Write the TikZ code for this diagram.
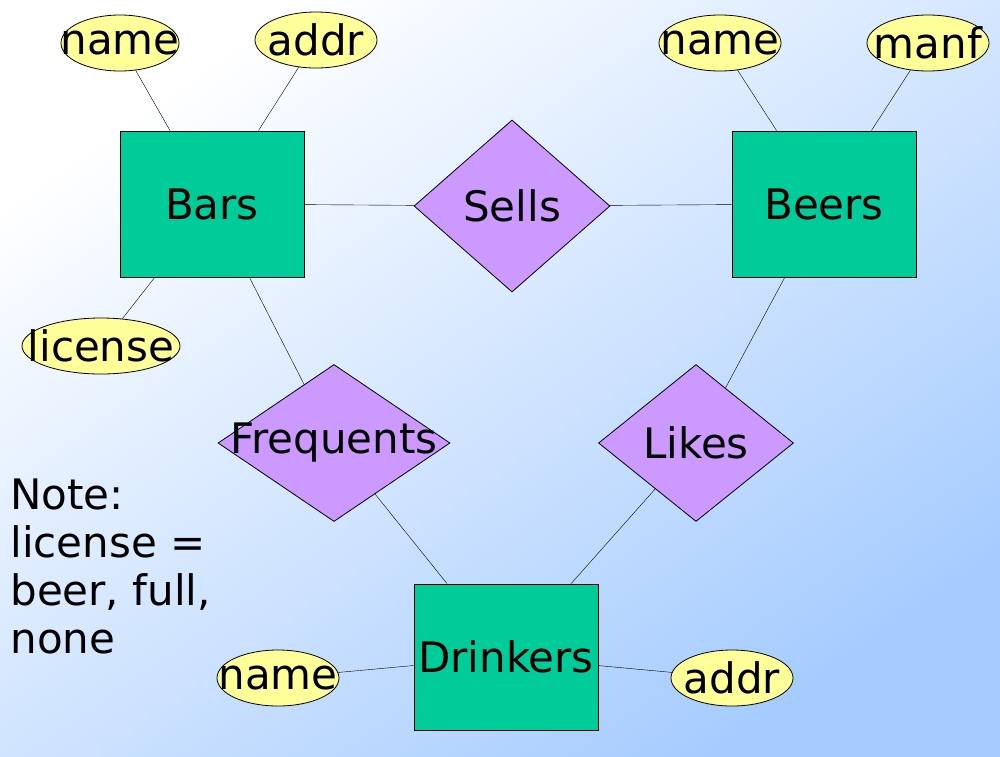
\documentclass[tikz,border=0pt]{standalone}
\usepackage{fontspec}
\setmainfont{DejaVu Sans}
\usetikzlibrary{shapes.geometric}
\definecolor{entfill}{HTML}{00CC99}
\definecolor{relfill}{HTML}{CC99FF}
\definecolor{attfill}{HTML}{FFFF99}
\definecolor{bgblue}{HTML}{A6CCFF}

\begin{document}
\begin{tikzpicture}[%
    x=1pt, y=-1pt,
    font=\fontsize{42}{48}\selectfont,
    entity/.style={draw, fill=entfill, minimum width=184pt, minimum height=146pt, inner sep=0pt},
    rel/.style={diamond, draw, fill=relfill, inner sep=0pt},
    attr/.style={ellipse, draw, fill=attfill, minimum width=122pt, minimum height=56pt, inner sep=0pt},
    thick
  ]

  \shade[top color=white, bottom color=bgblue, shading angle=35]
         (0,0) rectangle (1000,756);
  \useasboundingbox (0,0) rectangle (1000,756);

  \node[entity] (bars) at (212,204) {Bars};
  \node[entity] (beers) at (824,204) {Beers};
  \node[entity] (drinkers) at (506,657) {Drinkers};

  \node[rel, minimum width=196pt, minimum height=172pt, label=center:Sells] (sells) at (512,206) {};
  \node[rel, minimum width=232pt, minimum height=157pt, label=center:Frequents] (freq) at (334,443) {};
  \node[rel, minimum width=195pt, minimum height=157pt, label=center:Likes] (likes) at (696,443) {};

  \node[attr, minimum width=118pt, label=center:name] (barname) at (120,43) {};
  \node[attr, label=center:addr] (baraddr) at (316,40) {};
  \node[attr, minimum width=158pt, label=center:license] (license) at (101,346) {};
  \node[attr, label=center:name] (beername) at (720,43) {};
  \node[attr, label=center:manf] (manf) at (928,43) {};
  \node[attr, label=center:name] (drkname) at (278,678) {};
  \node[attr, label=center:addr] (drkaddr) at (732,678) {};

  \node[anchor=north west, align=left, inner sep=0pt] (note) at (10,478) {Note:\\license =\\beer, full,\\none};

  \path[draw, thin]
              (barname)   -- (bars)
              (baraddr)   -- (bars)
              (license)   -- (bars)
              (beername)  -- (beers)
              (manf)      -- (beers)
              (drkname)   -- (drinkers)
              (drkaddr)   -- (drinkers)
              (bars)      -- (sells)
              (sells)     -- (beers)
              (bars)      -- (freq)
              (freq)      -- (drinkers)
              (beers)     -- (likes)
              (likes)     -- (drinkers);
\end{tikzpicture}
\end{document}
